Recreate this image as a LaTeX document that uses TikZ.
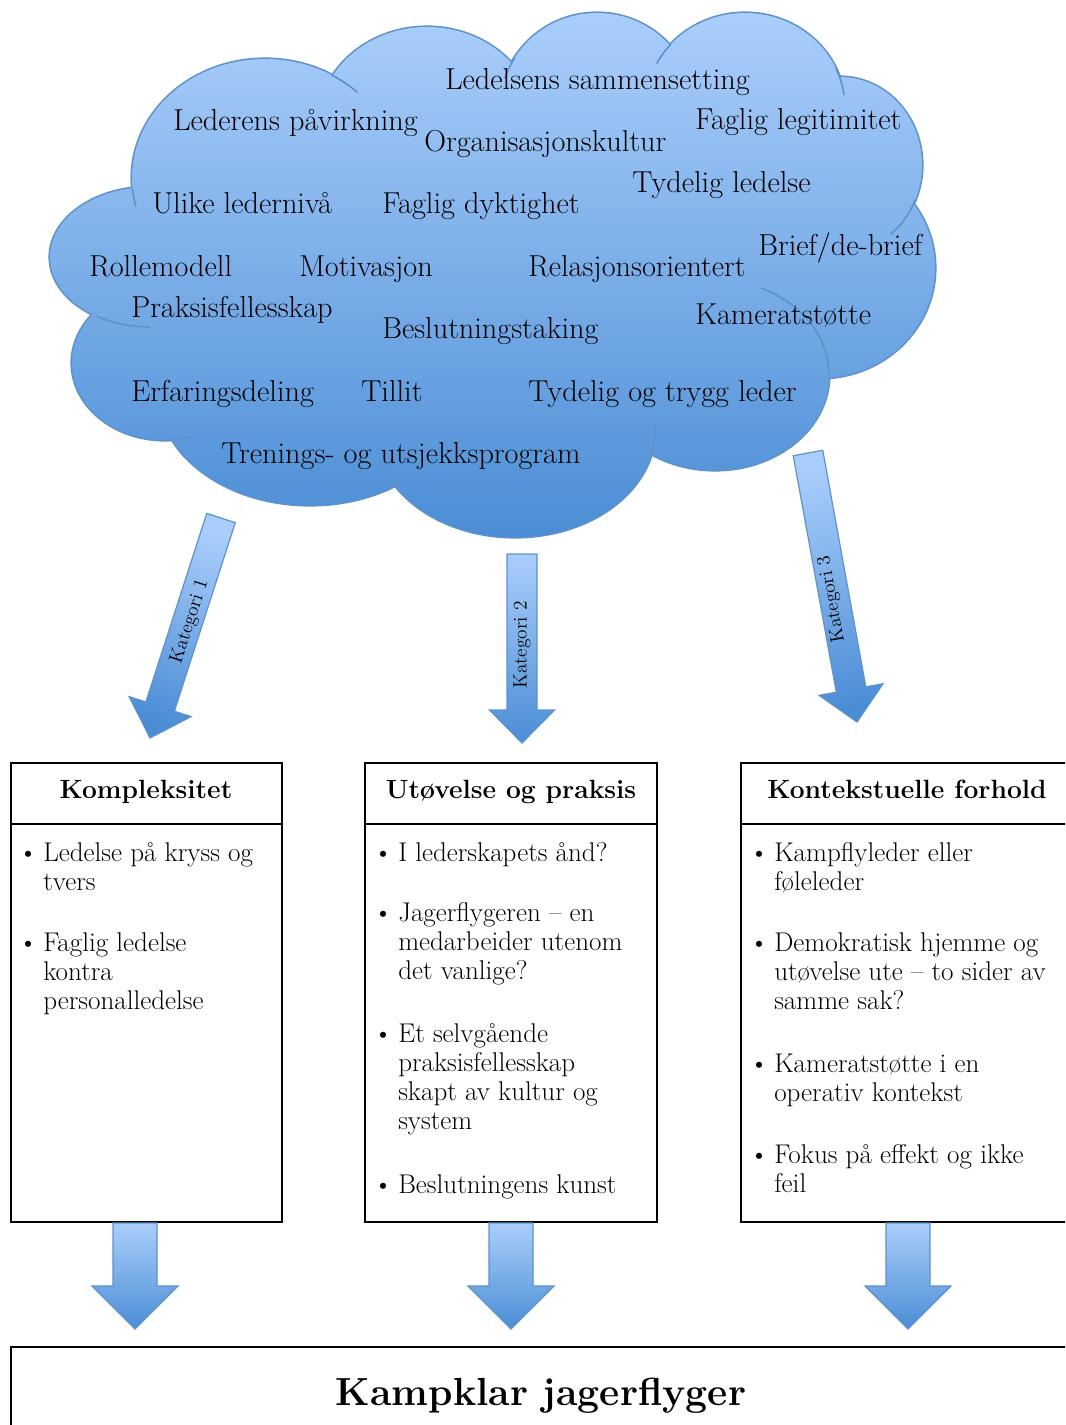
\documentclass[tikz,border=0pt]{standalone}
\usetikzlibrary{calc}

\definecolor{cloudtop}{HTML}{AACEFB}
\definecolor{cloudbot}{HTML}{4B8DD5}
\definecolor{cloudline}{HTML}{5D92CC}

% block arrow: tail, tip, half shaft, half head, head length, shading angle
\newcommand{\blockarrow}[6]{%
  \coordinate (hb) at ($(#2)!#5!(#1)$);
  \shadedraw[arrowfill, shading angle=#6]
    ($(#1)!#3!90:(#2)$) -- ($(hb)!#3!90:(#2)$) -- ($(hb)!#4!90:(#2)$) -- (#2)
    -- ($(hb)!#4!-90:(#2)$) -- ($(hb)!#3!-90:(#2)$) -- ($(#1)!#3!-90:(#2)$) -- cycle;
}
% short inner arc of a cloud lobe: cx, cy, rx, ry, from, to
\newcommand{\cloudtail}[6]{%
  \draw[cloudline, line width=1.2pt, shift={(#1,#2)}] (#5:#3 and #4)
    arc[start angle=#5, end angle=#6, x radius=#3, y radius=#4];
}
% bullet item, first line on the node's baseline
\newcommand{\pkt}[1]{\llap{\textbullet\hspace{4pt}}\begin{tabular}[t]{@{}l@{}}#1\end{tabular}}

\tikzset{
  cloudword/.style={anchor=base west, inner sep=0pt, font=\fontsize{22.7}{26}\selectfont},
  bodytext/.style={anchor=base west, inner sep=0pt, font=\fontsize{20.3}{21.75}\selectfont},
  boxtitle/.style={anchor=base, inner sep=0pt, font=\fontsize{19.8}{23}\selectfont\bfseries},
  katlabel/.style={inner sep=0pt, font=\fontsize{14.5}{17}\selectfont},
  catbox/.style={draw, line width=1.5pt, inner sep=0pt},
  arrowfill/.style={draw=cloudline, line width=0.9pt, top color=cloudtop, bottom color=cloudbot},
}

\begin{document}
\begin{tikzpicture}[x=0.75pt, y=-0.75pt]
  \useasboundingbox (0,0) rectangle (1065,1425);
  \clip (0,0) rectangle (1065,1425);

  % cloud lobes
  \def\lobes{265/178/133/119, 427/127/110/100, 597/108/97/95, 745/108/100/95,
    840/165/82/88, 820/268/115/110, 715/375/114/95, 515/430/140/107,
    310/392/152/113, 165/363/93/77, 150/257/100/70}
  \foreach \cx/\cy/\rx/\ry in \lobes {
    \draw[cloudline, line width=2.4pt] (\cx,\cy) ellipse [x radius=\rx, y radius=\ry];
  }
  \shade[top color=cloudtop, bottom color=cloudbot]
    \foreach \cx/\cy/\rx/\ry in \lobes {(\cx,\cy) ellipse [x radius=\rx, y radius=\ry]}
    (500,270) ellipse [x radius=330, y radius=170]
    (480,300) ellipse [x radius=250, y radius=150];

  \cloudtail{265}{178}{133}{119}{175}{166}
  \cloudtail{265}{178}{133}{119}{-60}{-46}
  \cloudtail{597}{108}{97}{95}{-148}{-162}
  \cloudtail{745}{108}{100}{95}{-138}{-152}
  \cloudtail{745}{108}{100}{95}{-25}{-8}
  \cloudtail{840}{165}{82}{88}{23}{52}
  \cloudtail{715}{375}{114}{95}{-66}{0}
  \cloudtail{515}{430}{140}{107}{15}{-2}
  \cloudtail{515}{430}{140}{107}{148}{163}
  \cloudtail{165}{363}{93}{77}{86}{70}
  \cloudtail{150}{257}{100}{70}{122}{90}

  % words in the cloud
  \node[cloudword] (ledsam) at (445,89) {Ledelsens sammensetting};
  \node[cloudword] (ledpav) at (173,130) {Lederens påvirkning};
  \node[cloudword] (orgkul) at (424,151) {Organisasjonskultur};
  \node[cloudword] (fagleg) at (695,129) {Faglig legitimitet};
  \node[cloudword] (tydled) at (632,192) {Tydelig ledelse};
  \node[cloudword] (ulike) at (152,213) {Ulike ledernivå};
  \node[cloudword] (fagdyk) at (382,213) {Faglig dyktighet};
  \node[cloudword] (brief) at (758,255) {Brief/de-brief};
  \node[cloudword] (rolle) at (89,276) {Rollemodell};
  \node[cloudword] (motiv) at (299,276) {Motivasjon};
  \node[cloudword] (relasj) at (528,276) {Relasjonsorientert};
  \node[cloudword] (praksis) at (131,317) {Praksisfellesskap};
  \node[cloudword] (beslut) at (382,338) {Beslutningstaking};
  \node[cloudword] (kamerat) at (695,324) {Kameratstøtte};
  \node[cloudword] (erfar) at (131,401) {Erfaringsdeling};
  \node[cloudword] (tillit) at (361,401) {Tillit};
  \node[cloudword] (tydtry) at (528,401) {Tydelig og trygg leder};
  \node[cloudword] (trening) at (221,463) {Trenings- og utsjekksprogram};

  % category arrows
  \coordinate (kat1a) at (221,518);
  \coordinate (kat1b) at (150,738);
  \coordinate (kat2a) at (522,554);
  \coordinate (kat2b) at (522,743);
  \coordinate (kat3a) at (808,453);
  \coordinate (kat3b) at (857,722);
  \blockarrow{kat1a}{kat1b}{11.25pt}{24.4pt}{24.75pt}{-18}
  \blockarrow{kat2a}{kat2b}{11.25pt}{24.4pt}{24.75pt}{0}
  \blockarrow{kat3a}{kat3b}{11.25pt}{24.4pt}{24.75pt}{10}
  \node[katlabel, rotate=72] (kat1) at (190,622) {Kategori 1};
  \node[katlabel, rotate=90] (kat2) at (522,645) {Kategori 2};
  \node[katlabel, rotate=100] (kat3) at (832,599) {Kategori 3};

  % boxes
  \node[catbox, minimum width=203.25pt, minimum height=344.25pt] (kompl) at (146.5,992.5) {};
  \node[catbox, minimum width=219pt, minimum height=344.25pt] (utov) at (511,992.5) {};
  \node[catbox, minimum width=250.5pt, minimum height=344.25pt] (kontekst) at (908,992.5) {};
  \node[catbox, minimum width=798pt, minimum height=69.75pt] (kampklar) at (543,1393.5) {};
  \foreach \b in {kompl, utov, kontekst}
    \draw[line width=1.5pt] ([yshift=-46.5pt]\b.north west) -- ([yshift=-46.5pt]\b.north east);

  \node[boxtitle] (t1) at (146,798) {Kompleksitet};
  \node[boxtitle] (t2) at (511,798) {Utøvelse og praksis};
  \node[boxtitle] (t3) at (907,798) {Kontekstuelle forhold};
  \node[boxtitle, font=\fontsize{29.4}{33}\selectfont\bfseries] (t4) at (541,1405) {Kampklar jagerflyger};

  \node[bodytext] (k1) at (43,861) {\pkt{Ledelse på kryss og\\tvers}};
  \node[bodytext] (k2) at (43,951) {\pkt{Faglig ledelse\\kontra\\personalledelse}};

  \node[bodytext] (u1) at (398,861) {\pkt{I lederskapets ånd?}};
  \node[bodytext] (u2) at (398,921) {\pkt{Jagerflygeren – en\\medarbeider utenom\\det vanlige?}};
  \node[bodytext] (u3) at (398,1042) {\pkt{Et selvgående\\praksisfellesskap\\skapt av kultur og\\system}};
  \node[bodytext] (u4) at (398,1193) {\pkt{Beslutningens kunst}};

  \node[bodytext] (c1) at (774,861) {\pkt{Kampflyleder eller\\føleleder}};
  \node[bodytext] (c2) at (774,951) {\pkt{Demokratisk hjemme og\\utøvelse ute – to sider av\\samme sak?}};
  \node[bodytext] (c3) at (774,1072) {\pkt{Kameratstøtte i en\\operativ kontekst}};
  \node[bodytext] (c4) at (774,1163) {\pkt{Fokus på effekt og ikke\\feil}};

  % arrows down to the bottom box
  \blockarrow{[xshift=-8.6pt]kompl.south}{$(kompl.south)+(-11.5,106)$}{16.5pt}{32.25pt}{32.25pt}{0}
  \blockarrow{utov.south}{$(utov.south)+(0,106)$}{16.5pt}{32.25pt}{32.25pt}{0}
  \blockarrow{kontekst.south}{$(kontekst.south)+(0,106)$}{16.5pt}{32.25pt}{32.25pt}{0}
\end{tikzpicture}
\end{document}
